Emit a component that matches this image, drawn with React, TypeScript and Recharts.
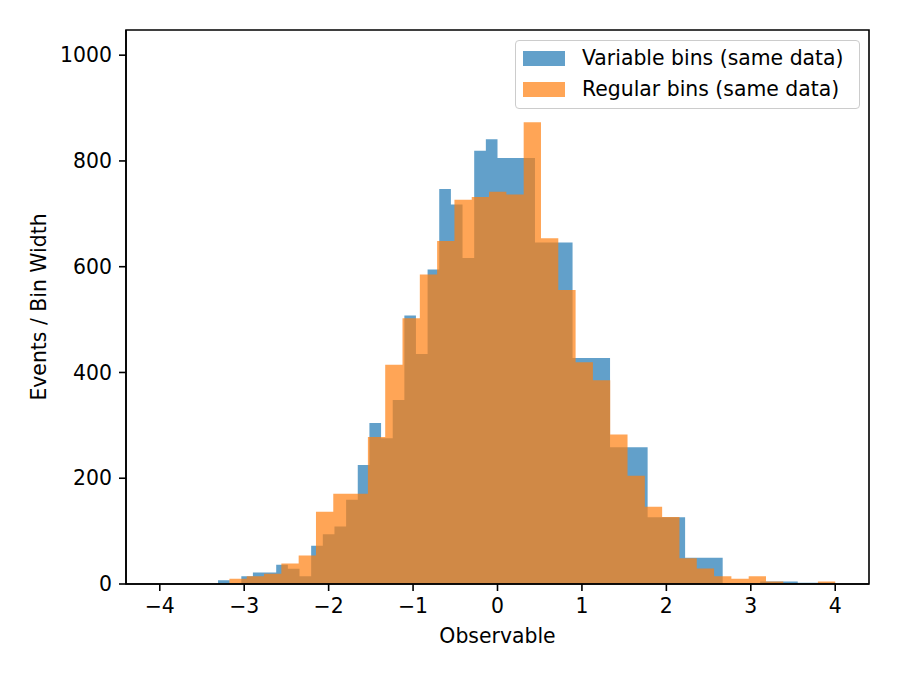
import React from 'react';
import { ComposedChart, Area, XAxis, YAxis, Label, ReferenceArea } from 'recharts';

// Variable bins: bin edges and density values (events / bin width)
const variableEdges = [
  -4.0, -3.862, -3.724, -3.586, -3.448, -3.31, -3.172, -3.034, -2.897, -2.759,
  -2.621, -2.483, -2.345, -2.207, -2.069, -1.931, -1.793, -1.655, -1.517, -1.379,
  -1.241, -1.103, -0.966, -0.828, -0.69, -0.552, -0.414, -0.276, -0.138, 0.0,
  0.444, 0.889, 1.333, 1.778, 2.222, 2.667, 3.111, 3.556, 4.0,
];
const variableValues = [
  0, 0, 0, 0, 0, 7.3, 0, 14.5, 21.8, 21.8,
  36.3, 29, 14.5, 72.5, 94.3, 108.8, 159.5, 224.8, 304.5, 275.5,
  348, 507.5, 435, 594.5, 746.8, 717.8, 616.3, 819.3, 841,
  805.5, 645.8, 427.5, 258.8, 126, 49.5, 0, 4.5, 2.3,
];

// Regular bins: bin edges and density values (events / bin width)
const regularEdges = [
  -3.175, -2.97, -2.765, -2.56, -2.355, -2.15, -1.945, -1.74, -1.535, -1.33,
  -1.125, -0.92, -0.715, -0.51, -0.305, -0.1, 0.105, 0.31, 0.515, 0.72,
  0.925, 1.13, 1.335, 1.54, 1.745, 1.95, 2.155, 2.36, 2.565, 2.77,
  2.975, 3.18, 3.385, 3.59, 3.795, 4.0,
];
const regularValues = [
  9.8, 14.6, 19.5, 39, 53.7, 136.6, 170.7, 170.7, 278, 414.6,
  502.4, 585.4, 648.8, 726.8, 731.7, 741.5, 736.6, 873.2, 653.7, 556.1,
  419.5, 385.4, 282.9, 204.9, 146.3, 126.8, 48.8, 29.3, 14.6, 9.8,
  14.6, 4.9, 0, 0, 4.9,
];

const xTicks = [-4, -3, -2, -1, 0, 1, 2, 3, 4];
const yTicks = [0, 200, 400, 600, 800, 1000];
const xDomain: [number, number] = [-4.4, 4.4];
const yDomain: [number, number] = [0, 1047.6];

const seriesInfo = [
  { name: 'Variable bins (same data)', color: '#1f77b4' },
  { name: 'Regular bins (same data)', color: '#ff7f0e' },
];

const toSteps = (edges: number[], values: number[]) => {
  const pts = values.map((v, i) => ({ x: edges[i], y: v }));
  pts.push({ x: edges[edges.length - 1], y: values[values.length - 1] });
  return pts;
};

const variableData = toSteps(variableEdges, variableValues);
const regularData = toSteps(regularEdges, regularValues);

const FONT = 'DejaVu Sans';
const FS = 20.4;

const fmt = (v: number) => (v < 0 ? `\u2212${Math.abs(v)}` : `${v}`);

export default function App() {
  return (
    <div style={{ position: 'absolute', left: 0, top: 0, width: 899, height: 679, background: '#fff' }}>
      <ComposedChart width={899} height={679} margin={{ top: 30, right: 30, left: 0, bottom: 0 }}>
        <XAxis
          xAxisId={0}
          dataKey="x"
          type="number"
          domain={xDomain}
          ticks={xTicks}
          tickFormatter={fmt}
          height={95}
          tickSize={7}
          tickMargin={8}
          axisLine={{ stroke: '#000', strokeWidth: 1.6 }}
          tickLine={{ stroke: '#000', strokeWidth: 1.6 }}
          tick={{ fill: '#000', fontSize: FS, fontFamily: FONT }}
          allowDataOverflow
        >
          <Label
            content={(props: any) => {
              const vb = props.viewBox || {};
              return (
                <text
                  x={vb.x + vb.width / 2}
                  y={643}
                  textAnchor="middle"
                  fill="#000"
                  fontSize={FS}
                  fontFamily={FONT}
                >
                  Observable
                </text>
              );
            }}
          />
        </XAxis>
        <YAxis
          yAxisId={0}
          type="number"
          domain={yDomain}
          ticks={yTicks}
          width={126}
          tickSize={7}
          tickMargin={7}
          axisLine={{ stroke: '#000', strokeWidth: 1.6 }}
          tickLine={{ stroke: '#000', strokeWidth: 1.6 }}
          tick={{ fill: '#000', fontSize: FS, fontFamily: FONT }}
          allowDataOverflow
        >
          <Label
            content={(props: any) => {
              const vb = props.viewBox || {};
              const cy = vb.y + vb.height / 2;
              return (
                <text
                  x={46}
                  y={cy}
                  transform={`rotate(-90, 46, ${cy})`}
                  textAnchor="middle"
                  fill="#000"
                  fontSize={FS}
                  fontFamily={FONT}
                >
                  Events / Bin Width
                </text>
              );
            }}
          />
        </YAxis>
        <Area
          data={variableData}
          dataKey="y"
          type="stepAfter"
          xAxisId={0}
          yAxisId={0}
          fill={seriesInfo[0].color}
          fillOpacity={0.7}
          stroke="none"
          isAnimationActive={false}
          dot={false}
          activeDot={false}
        />
        <Area
          data={regularData}
          dataKey="y"
          type="stepAfter"
          xAxisId={0}
          yAxisId={0}
          fill={seriesInfo[1].color}
          fillOpacity={0.7}
          stroke="none"
          isAnimationActive={false}
          dot={false}
          activeDot={false}
        />
        <ReferenceArea
          xAxisId={0}
          yAxisId={0}
          x1={xDomain[0]}
          x2={xDomain[1]}
          y1={yDomain[0]}
          y2={yDomain[1]}
          fill="none"
          fillOpacity={0}
          stroke="#000"
          strokeWidth={1.6}
          ifOverflow="visible"
        />
      </ComposedChart>
      <div
        style={{
          position: 'absolute',
          left: 515,
          top: 40,
          width: 345,
          height: 69,
          boxSizing: 'border-box',
          border: '1.5px solid #cccccc',
          borderRadius: 4,
          background: 'rgba(255,255,255,0.8)',
          fontFamily: FONT,
          fontSize: FS,
          color: '#000',
        }}
      >
        {seriesInfo.map((s, i) => (
          <div
            key={s.name}
            style={{
              position: 'absolute',
              left: 7,
              top: 9 + i * 31,
              height: 17,
              display: 'flex',
              alignItems: 'center',
              whiteSpace: 'nowrap',
            }}
          >
            <span
              style={{
                display: 'inline-block',
                width: 42,
                height: 15,
                background: s.color,
                opacity: 0.7,
                marginRight: 17,
              }}
            />
            <span style={{ lineHeight: '17px' }}>{s.name}</span>
          </div>
        ))}
      </div>
    </div>
  );
}
